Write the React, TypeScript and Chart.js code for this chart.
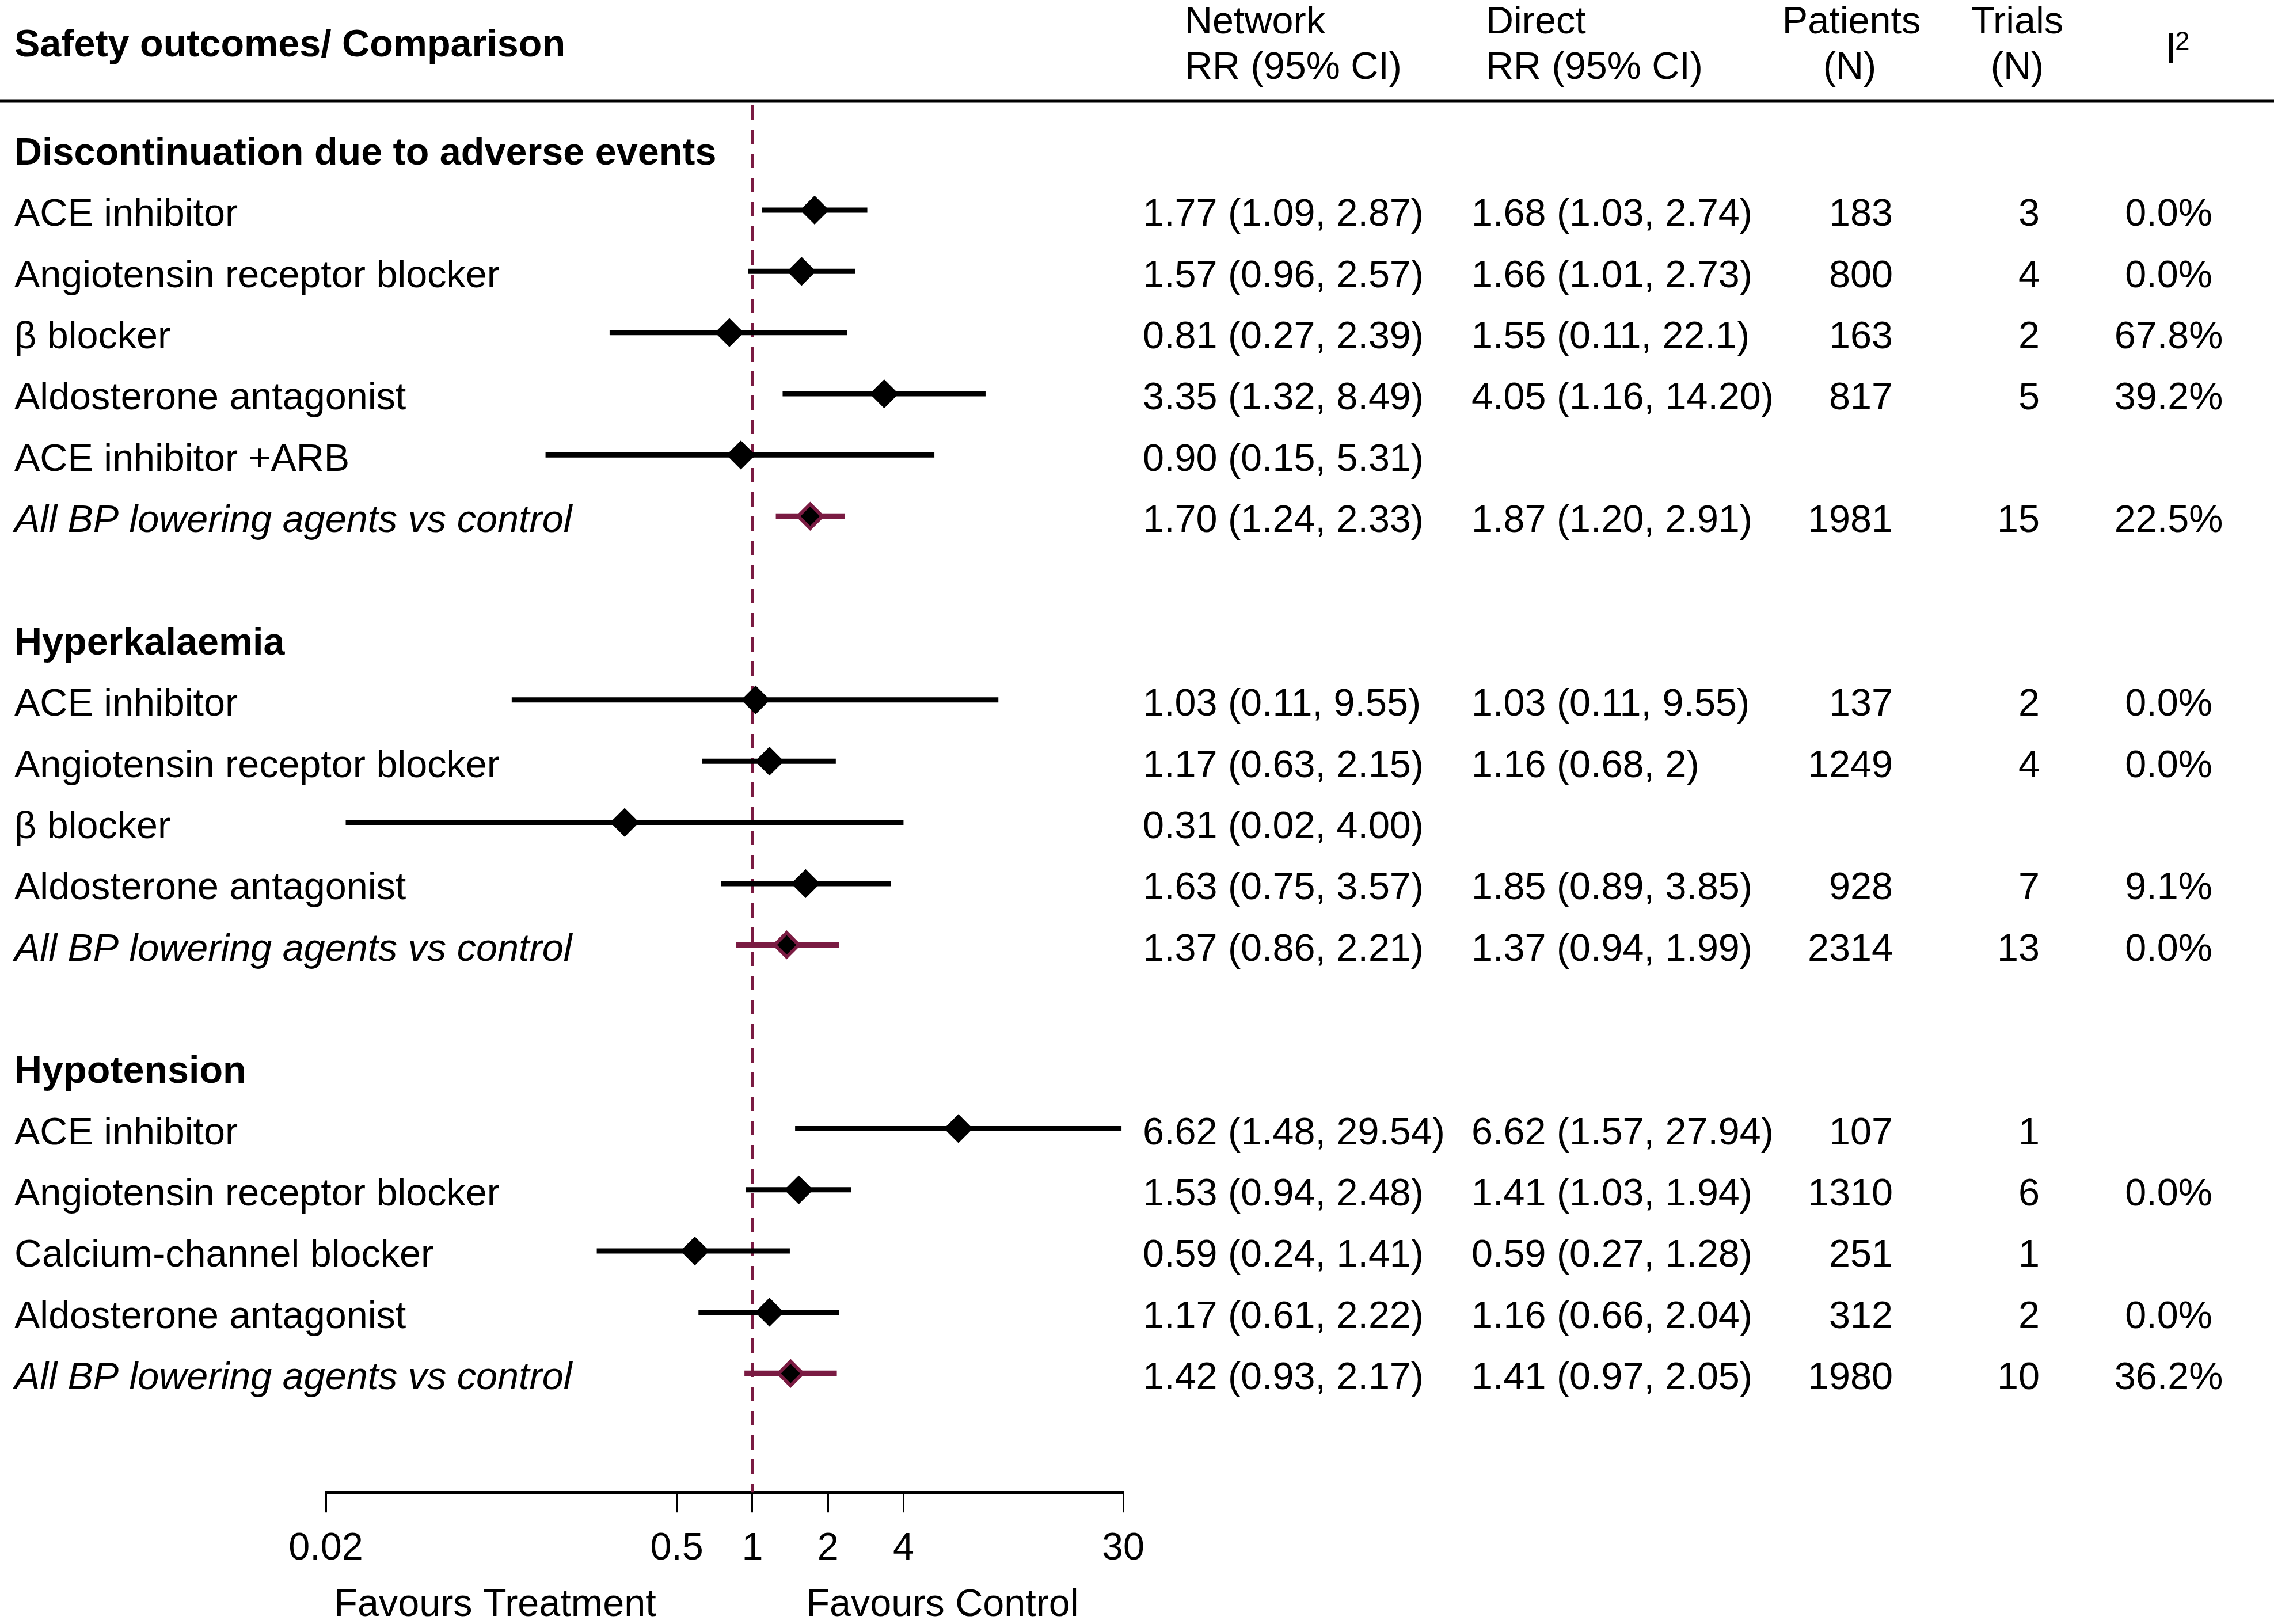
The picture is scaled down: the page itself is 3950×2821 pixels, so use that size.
import React, { useEffect, useRef } from 'react';
import { Chart, registerables } from 'chart.js';

Chart.register(...registerables);

const FONT = "'Liberation Sans', Arial, Helvetica, sans-serif";
const MAROON = '#7a1b42';

// ---- data ----
const rowLabels: string[] = [
  'Discontinuation due to adverse events',
  'ACE inhibitor',
  'Angiotensin receptor blocker',
  'β blocker',
  'Aldosterone antagonist',
  'ACE inhibitor +ARB',
  'All BP lowering agents vs control',
  '',
  'Hyperkalaemia',
  'ACE inhibitor',
  'Angiotensin receptor blocker',
  'β blocker',
  'Aldosterone antagonist',
  'All BP lowering agents vs control',
  '',
  'Hypotension',
  'ACE inhibitor',
  'Angiotensin receptor blocker',
  'Calcium-channel blocker',
  'Aldosterone antagonist',
  'All BP lowering agents vs control',
];

const rowKinds: string[] = [
  'head', 'item', 'item', 'item', 'item', 'item', 'pooled',
  'blank',
  'head', 'item', 'item', 'item', 'item', 'pooled',
  'blank',
  'head', 'item', 'item', 'item', 'item', 'pooled',
];

const netRR: (number | null)[] = [
  null, 1.77, 1.57, 0.81, 3.35, 0.90, 1.70,
  null,
  null, 1.03, 1.17, 0.31, 1.63, 1.37,
  null,
  null, 6.62, 1.53, 0.59, 1.17, 1.42,
];
const netLo: (number | null)[] = [
  null, 1.09, 0.96, 0.27, 1.32, 0.15, 1.24,
  null,
  null, 0.11, 0.63, 0.024, 0.75, 0.86,
  null,
  null, 1.48, 0.94, 0.24, 0.61, 0.93,
];
const netHi: (number | null)[] = [
  null, 2.87, 2.57, 2.39, 8.49, 5.31, 2.33,
  null,
  null, 9.55, 2.15, 4.00, 3.57, 2.21,
  null,
  null, 29.54, 2.48, 1.41, 2.22, 2.17,
];

const networkText: string[] = [
  '', '1.77 (1.09, 2.87)', '1.57 (0.96, 2.57)', '0.81 (0.27, 2.39)', '3.35 (1.32, 8.49)', '0.90 (0.15, 5.31)', '1.70 (1.24, 2.33)',
  '',
  '', '1.03 (0.11, 9.55)', '1.17 (0.63, 2.15)', '0.31 (0.02, 4.00)', '1.63 (0.75, 3.57)', '1.37 (0.86, 2.21)',
  '',
  '', '6.62 (1.48, 29.54)', '1.53 (0.94, 2.48)', '0.59 (0.24, 1.41)', '1.17 (0.61, 2.22)', '1.42 (0.93, 2.17)',
];
const directText: string[] = [
  '', '1.68 (1.03, 2.74)', '1.66 (1.01, 2.73)', '1.55 (0.11, 22.1)', '4.05 (1.16, 14.20)', '', '1.87 (1.20, 2.91)',
  '',
  '', '1.03 (0.11, 9.55)', '1.16 (0.68, 2)', '', '1.85 (0.89, 3.85)', '1.37 (0.94, 1.99)',
  '',
  '', '6.62 (1.57, 27.94)', '1.41 (1.03, 1.94)', '0.59 (0.27, 1.28)', '1.16 (0.66, 2.04)', '1.41 (0.97, 2.05)',
];
const patientsN: string[] = [
  '', '183', '800', '163', '817', '', '1981',
  '',
  '', '137', '1249', '', '928', '2314',
  '',
  '', '107', '1310', '251', '312', '1980',
];
const trialsN: string[] = [
  '', '3', '4', '2', '5', '', '15',
  '',
  '', '2', '4', '', '7', '13',
  '',
  '', '1', '6', '1', '2', '10',
];
const i2Text: string[] = [
  '', '0.0%', '0.0%', '67.8%', '39.2%', '', '22.5%',
  '',
  '', '0.0%', '0.0%', '', '9.1%', '0.0%',
  '',
  '', '', '0.0%', '', '0.0%', '36.2%',
];

const tickValues: number[] = [0.02, 0.5, 1, 2, 4, 30];
const tickLabels: string[] = ['0.02', '0.5', '1', '2', '4', '30'];

const headerTitle = 'Safety outcomes/ Comparison';
const favoursLeft = 'Favours Treatment';
const favoursRight = 'Favours Control';

// ---- layout constants ----
const W = 3950;
const H = 2821;
const Y_MIN = -1.5;
const Y_MAX = 21.94;
const REF_TOP = -0.71;
const FS = 66.5;
const TEXT_DY = 9;

const f = (weight: string, style: string, size: number) => `${style} ${weight} ${size}px ${FONT}`;

const tablePlugin = {
  id: 'forestTable',
  afterDraw(chart: any) {
    const ctx = chart.ctx as CanvasRenderingContext2D;
    const ys = chart.scales.y;
    ctx.save();
    ctx.fillStyle = '#000';
    // header rule
    ctx.fillRect(0, 172.5, chart.width, 6);
    ctx.textBaseline = 'middle';

    ctx.textAlign = 'left';
    ctx.font = f('bold', 'normal', FS);
    ctx.fillText(headerTitle, 25, 80);

    ctx.font = f('normal', 'normal', FS);
    ctx.fillText('Network', 2058, 40);
    ctx.fillText('RR (95% CI)', 2058, 119);
    ctx.fillText('Direct', 2581, 40);
    ctx.fillText('RR (95% CI)', 2581, 119);
    ctx.textAlign = 'center';
    ctx.fillText('Patients', 3216, 40);
    ctx.fillText('(N)', 3213, 119);
    ctx.fillText('Trials', 3504, 40);
    ctx.fillText('(N)', 3504, 119);
    ctx.textAlign = 'left';
    ctx.font = f('normal', 'normal', 74);
    ctx.fillText('I', 3761, 89);
    ctx.font = f('normal', 'normal', 46);
    ctx.fillText('2', 3778, 74);

    for (let i = 0; i < rowLabels.length; i++) {
      const kind = rowKinds[i];
      if (kind === 'blank') continue;
      const py = ys.getPixelForValue(i) + TEXT_DY;
      ctx.textAlign = 'left';
      if (kind === 'head') ctx.font = f('bold', 'normal', FS);
      else if (kind === 'pooled') ctx.font = f('normal', 'italic', FS);
      else ctx.font = f('normal', 'normal', FS);
      ctx.fillText(rowLabels[i], 25, py);
      if (kind === 'head') continue;
      ctx.font = f('normal', 'normal', FS);
      ctx.textAlign = 'left';
      ctx.fillText(networkText[i], 1985, py);
      ctx.fillText(directText[i], 2556, py);
      ctx.textAlign = 'right';
      ctx.fillText(patientsN[i], 3288, py);
      ctx.fillText(trialsN[i], 3543, py);
      ctx.textAlign = 'center';
      ctx.fillText(i2Text[i], 3767, py);
    }

    ctx.font = f('normal', 'normal', FS);
    ctx.textAlign = 'center';
    ctx.fillText(favoursLeft, 860, 2789);
    ctx.fillText(favoursRight, 1637, 2789);
    ctx.restore();
  },
};

export default function App() {
  const ref = useRef<HTMLCanvasElement | null>(null);

  useEffect(() => {
    document.body.style.margin = '0';
    document.body.style.overflow = 'hidden';
    const canvas = ref.current;
    if (!canvas) return;

    const datasets: any[] = [];

    const itemPts: any[] = [];
    const pooledPts: any[] = [];
    for (let i = 0; i < rowLabels.length; i++) {
      const rr = netRR[i];
      const lo = netLo[i];
      const hi = netHi[i];
      if (rr == null || lo == null || hi == null) continue;
      const pooled = rowKinds[i] === 'pooled';
      (pooled ? pooledPts : itemPts).push({ x: rr, y: i });
      datasets.push({
        type: 'scatter',
        data: [{ x: lo, y: i }, { x: hi, y: i }],
        showLine: true,
        borderColor: pooled ? MAROON : '#000',
        borderWidth: pooled ? 10 : 9,
        pointRadius: 0,
        pointHoverRadius: 0,
        clip: false,
        order: 2,
      });
    }

    datasets.push({
      type: 'scatter',
      data: itemPts,
      pointStyle: 'rectRot',
      pointRadius: 23,
      pointHoverRadius: 23,
      pointBackgroundColor: '#000',
      pointBorderColor: '#000',
      pointBorderWidth: 3,
      clip: false,
      order: 1,
    });
    datasets.push({
      type: 'scatter',
      data: pooledPts,
      pointStyle: 'rectRot',
      pointRadius: 21,
      pointHoverRadius: 21,
      pointBackgroundColor: '#000',
      pointBorderColor: MAROON,
      pointBorderWidth: 6,
      clip: false,
      order: 1,
    });
    datasets.push({
      type: 'scatter',
      data: [{ x: 1, y: REF_TOP }, { x: 1, y: Y_MAX }],
      showLine: true,
      borderColor: MAROON,
      borderWidth: 5,
      borderDash: [25, 17],
      pointRadius: 0,
      pointHoverRadius: 0,
      clip: false,
      order: 3,
    });

    const chart = new Chart(canvas, {
      type: 'scatter',
      data: { datasets },
      options: {
        responsive: false,
        maintainAspectRatio: false,
        devicePixelRatio: 1,
        animation: false,
        events: [],
        layout: { padding: { left: 566, right: W - 1951, top: 99, bottom: 66 } },
        plugins: {
          legend: { display: false },
          tooltip: { enabled: false },
        },
        scales: {
          x: {
            type: 'logarithmic',
            position: 'bottom',
            min: 0.02,
            max: 30,
            afterBuildTicks: (s: any) => {
              s.ticks = tickValues.map((v) => ({ value: v }));
            },
            ticks: {
              autoSkip: false,
              maxRotation: 0,
              minRotation: 0,
              padding: 24,
              color: '#000',
              font: { family: FONT, size: FS },
              callback: (_v: any, idx: number) => tickLabels[idx] ?? '',
            },
            grid: {
              drawOnChartArea: false,
              drawTicks: true,
              tickLength: 35,
              lineWidth: 3,
              color: '#000',
            },
            border: { display: true, width: 5, color: '#000' },
          },
          y: {
            type: 'linear',
            display: false,
            reverse: true,
            min: Y_MIN,
            max: Y_MAX,
          },
        },
      },
      plugins: [tablePlugin],
    } as any);

    return () => chart.destroy();
  }, []);

  return (
    <canvas
      ref={ref}
      width={W}
      height={H}
      style={{ display: 'block', width: W + 'px', height: H + 'px', background: '#fff' }}
    />
  );
}
